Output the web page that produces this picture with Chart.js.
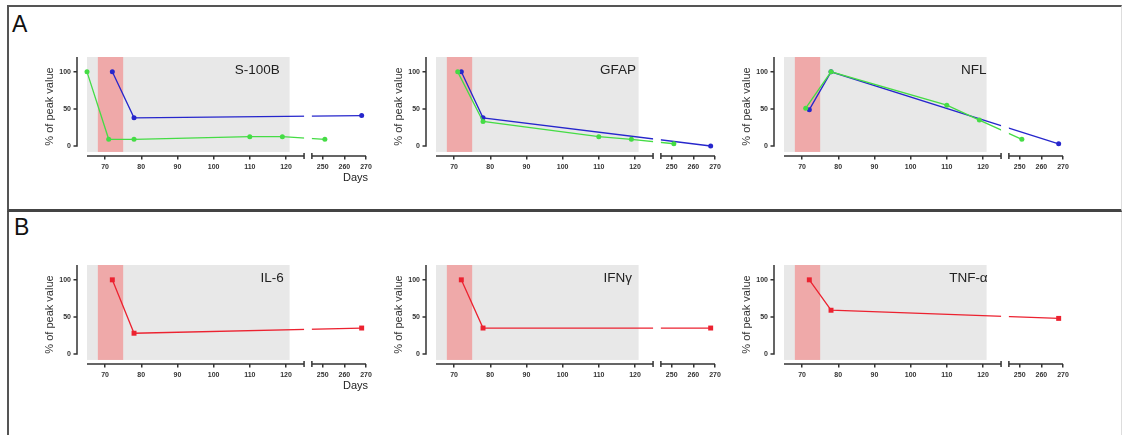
<!DOCTYPE html>
<html>
<head>
<meta charset="utf-8">
<script src="https://cdn.jsdelivr.net/npm/chart.js@4.4.1/dist/chart.umd.min.js"></script>
<style>
  body { margin: 0; background: #fff; width: 1123px; height: 435px; overflow: hidden; position: relative;
         font-family: "Liberation Sans", Arial, sans-serif; }
  .frame { position: absolute; box-sizing: border-box; }
  #frameA { left: 7px; top: 5px; width: 1115px; height: 207px; border-top: 2px solid #555;
            border-left: 2px solid #555; border-right: 1px solid #ddd; border-bottom: 3px solid #444; }
  #frameB { left: 7px; top: 212px; width: 1115px; height: 240px; border-left: 2px solid #555; border-right: 1px solid #ddd; }
  .letter { position: absolute; font-size: 23px; line-height: 23px; color: #111; }
  canvas { position: absolute; }
</style>
</head>
<body>
<div class="frame" id="frameA"></div>
<div class="frame" id="frameB"></div>
<div class="letter" style="left:12px;top:13px">A</div>
<div class="letter" style="left:14px;top:216px">B</div>

<canvas id="c1" width="345" height="145" style="left:30px;top:45px"></canvas>
<canvas id="c2" width="345" height="145" style="left:379px;top:45px"></canvas>
<canvas id="c3" width="345" height="145" style="left:727px;top:45px"></canvas>
<canvas id="c4" width="345" height="145" style="left:30px;top:253px"></canvas>
<canvas id="c5" width="345" height="145" style="left:379px;top:253px"></canvas>
<canvas id="c6" width="345" height="145" style="left:727px;top:253px"></canvas>

<script>
// axis ticks (days) and % ticks
var xTicks = [70, 80, 90, 100, 110, 120, 250, 260, 270];
var yTicks = [0, 50, 100];
// broken axis: 65-125 then 245-270
var segLeft = [65, 125];
var segRight = [245, 270];
// shaded periods (days)
var grayBand = [65, 121];
var redBand = [68, 75];

// S-100B
var s100bGreenDays = [65, 71, 78, 110, 119, 251];
var s100bGreen     = [100, 9, 9, 12.5, 12.5, 9];
var s100bBlueDays  = [72, 78, 268];
var s100bBlue      = [100, 38, 41];
// GFAP
var gfapGreenDays = [71, 78, 110, 119, 251];
var gfapGreen     = [100, 33, 12.5, 9, 3];
var gfapBlueDays  = [72, 78, 268];
var gfapBlue      = [100, 38, 0];
// NFL
var nflGreenDays = [71, 78, 110, 119, 251];
var nflGreen     = [51, 100, 55, 35, 9];
var nflBlueDays  = [72, 78, 268];
var nflBlue      = [49, 100, 3];
// cytokines
var cytoDays = [72, 78, 268];
var il6      = [100, 28, 35];
var ifng     = [100, 35, 35];
var tnfa     = [100, 59, 48];

var FONT = '"Liberation Sans", Arial, sans-serif';
var GREEN = '#45dc45', BLUE = '#2626cc', RED = '#ec2230';

// x scale with a gap in it
var gapStart = 0.778, gapEnd = 0.806;
class BrokenScale extends Chart.LinearScale {
  getPixelForValue(v) {
    var w = this.width;
    if (v <= segLeft[1]) {
      return this.left + (v - segLeft[0]) / (segLeft[1] - segLeft[0]) * w * gapStart;
    }
    return this.left + w * gapEnd + (v - segRight[0]) / (segRight[1] - segRight[0]) * w * (1 - gapEnd);
  }
}
BrokenScale.id = 'broken';
BrokenScale.defaults = {};
Chart.register(BrokenScale);

function pts(days, vals) {
  return days.map(function(d, i) { return { x: d, y: vals[i] }; });
}

function series(days, vals, color, square) {
  return {
    data: pts(days, vals),
    borderColor: color,
    backgroundColor: color,
    borderWidth: 1.3,
    pointRadius: square ? 3.5 : 2.5,
    pointStyle: square ? 'rect' : 'circle',
    pointBorderWidth: 0,
    tension: 0,
    clip: false
  };
}

var axesPlugin = {
  id: 'brokenAxes',
  beforeDatasetsDraw: function(chart) {
    var ctx = chart.ctx, x = chart.scales.x, y = chart.scales.y;
    var top = y.getPixelForValue(120), bot = y.getPixelForValue(-8);
    ctx.save();
    ctx.fillStyle = '#e8e8e8';
    ctx.fillRect(x.getPixelForValue(grayBand[0]), top, x.getPixelForValue(grayBand[1]) - x.getPixelForValue(grayBand[0]), bot - top);
    ctx.fillStyle = '#efa9a9';
    ctx.fillRect(x.getPixelForValue(redBand[0]), top, x.getPixelForValue(redBand[1]) - x.getPixelForValue(redBand[0]), bot - top);
    ctx.restore();
  },
  afterDatasetsDraw: function(chart) {
    var ctx = chart.ctx, x = chart.scales.x, y = chart.scales.y, area = chart.chartArea;
    var opts = chart.options.plugins.brokenAxes;
    var g0 = x.getPixelForValue(segLeft[1]), g1 = x.getPixelForValue(segRight[0]);
    ctx.save();
    // break in the lines
    ctx.fillStyle = '#fff';
    ctx.fillRect(g0, area.top, g1 - g0, area.bottom - area.top - 1);

    ctx.strokeStyle = '#333';
    ctx.lineWidth = 1.5;
    // y axis, offset from the plot
    var ax = area.left - 10;
    ctx.beginPath();
    ctx.moveTo(ax, y.getPixelForValue(120));
    ctx.lineTo(ax, y.getPixelForValue(0) + 0.7);
    yTicks.forEach(function(t) {
      var py = y.getPixelForValue(t);
      ctx.moveTo(ax - 3.5, py);
      ctx.lineTo(ax, py);
    });
    // x axis in two pieces
    var by = area.bottom;
    ctx.moveTo(x.getPixelForValue(segLeft[0]), by);
    ctx.lineTo(g0, by);
    ctx.moveTo(g1, by);
    ctx.lineTo(x.getPixelForValue(segRight[1]), by);
    ctx.moveTo(g0, by - 3);
    ctx.lineTo(g0, by + 3);
    ctx.moveTo(g1, by - 3);
    ctx.lineTo(g1, by + 3);
    ctx.stroke();

    ctx.fillStyle = '#222';
    ctx.font = '13.5px ' + FONT;
    ctx.textAlign = 'right';
    ctx.textBaseline = 'alphabetic';
    ctx.fillText(opts.title, x.getPixelForValue(opts.titleDay), y.getPixelForValue(97));
    if (opts.days) {
      ctx.font = '11px ' + FONT;
      ctx.fillText('Days', area.right + 2, area.bottom + 25);
    }
    ctx.restore();
  }
};

function makeChart(id, title, titleDay, days, datasets) {
  return new Chart(document.getElementById(id), {
    type: 'line',
    data: { datasets: datasets },
    plugins: [axesPlugin],
    options: {
      animation: false,
      responsive: false,
      events: [],
      layout: { padding: { left: 0, top: 12, right: 9, bottom: 0 } },
      plugins: {
        legend: { display: false },
        tooltip: { enabled: false },
        brokenAxes: { title: title, titleDay: titleDay, days: days }
      },
      scales: {
        x: {
          type: 'broken',
          min: segLeft[0],
          max: segRight[1],
          afterBuildTicks: function(s) { s.ticks = xTicks.map(function(v) { return { value: v }; }); },
          afterFit: function(s) { s.height = 34; s.paddingLeft = 0; s.paddingRight = 0; },
          border: { display: false },
          grid: { drawOnChartArea: false, drawTicks: true, tickLength: 3.5, color: '#333', lineWidth: 1.5 },
          ticks: {
            autoSkip: false, maxRotation: 0, padding: 3, color: '#333',
            font: { size: 7, weight: 'bold', family: FONT },
            callback: function(v) { return String(v); }
          }
        },
        y: {
          min: -13.5,
          max: 120,
          afterBuildTicks: function(s) { s.ticks = yTicks.map(function(v) { return { value: v }; }); },
          afterFit: function(s) { s.width = 57; s.paddingTop = 0; s.paddingBottom = 0; },
          border: { display: false },
          grid: { display: false, drawTicks: false },
          ticks: {
            padding: 16, color: '#333',
            font: { size: 7, weight: 'bold', family: FONT },
            callback: function(v) { return String(v); }
          },
          title: {
            display: true, text: '% of peak value', color: '#333',
            font: { size: 11, family: FONT },
            padding: { top: 13, bottom: 0 }
          }
        }
      }
    }
  });
}

makeChart('c1', 'S-100B', 118.3, true, [
  series(s100bGreenDays, s100bGreen, GREEN, false),
  series(s100bBlueDays, s100bBlue, BLUE, false)
]);
makeChart('c2', 'GFAP', 120.3, false, [
  series(gfapGreenDays, gfapGreen, GREEN, false),
  series(gfapBlueDays, gfapBlue, BLUE, false)
]);
makeChart('c3', 'NFL', 121, false, [
  series(nflGreenDays, nflGreen, GREEN, false),
  series(nflBlueDays, nflBlue, BLUE, false)
]);
makeChart('c4', 'IL-6', 119.4, true, [series(cytoDays, il6, RED, true)]);
makeChart('c5', 'IFNγ', 119.2, false, [series(cytoDays, ifng, RED, true)]);
makeChart('c6', 'TNF-α', 121.3, false, [series(cytoDays, tnfa, RED, true)]);
</script>
</body>
</html>
